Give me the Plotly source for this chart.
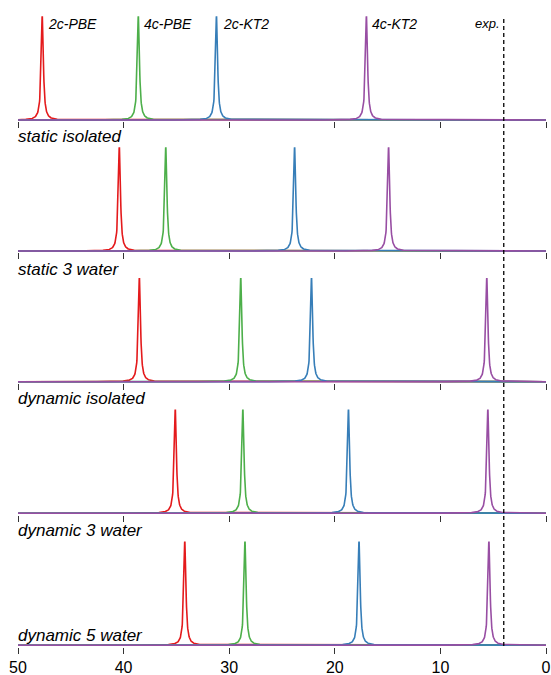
import numpy as np
import plotly.graph_objects as go

# ---- data (peak positions) ----
methods = ["2c-PBE", "4c-PBE", "2c-KT2", "4c-KT2"]
rows = ["static isolated", "static 3 water", "dynamic isolated", "dynamic 3 water", "dynamic 5 water"]
peaks_2c_pbe = [47.7, 40.4, 38.5, 35.1, 34.2]
peaks_4c_pbe = [38.6, 36.0, 28.9, 28.7, 28.5]
peaks_2c_kt2 = [31.2, 23.8, 22.2, 18.7, 17.7]
peaks_4c_kt2 = [17.0, 14.9, 5.6, 5.5, 5.4]
exp_value = 4.0
tick_vals = [50, 40, 30, 20, 10, 0]

colors = ["#e41a1c", "#4daf4a", "#377eb8", "#984ea3"]
series = [peaks_2c_pbe, peaks_4c_pbe, peaks_2c_kt2, peaks_4c_kt2]

W, H = 551, 675
gamma = 0.12
grid = np.round(np.arange(0.0, 50.0001, 0.02), 4)

baselines = [121.3, 252.3, 383.0, 514.5, 646.5]  # pixel rows of axes
panel_h = 105

def py(Y):
    return 1 - Y / H

fig = go.Figure()
n = len(rows)
for i in range(n):
    ax = "" if i == 0 else str(i + 1)
    for k, (m, vals) in enumerate(zip(methods, series)):
        c = vals[i]
        x = np.unique(np.concatenate([grid, [c]]))
        y = gamma**2 / (gamma**2 + (x - c) ** 2)
        fig.add_trace(go.Scatter(
            x=x, y=y, mode="lines", name=m, showlegend=False,
            line=dict(color=colors[k], width=1.6),
            xaxis="x" + ax, yaxis="y" + ax, hoverinfo="skip"))
    B = baselines[i]
    fig.layout["yaxis" + ax] = dict(
        domain=[py(B), py(B - panel_h)], range=[-0.012, 0.985],
        visible=False, fixedrange=True)
    fig.layout["xaxis" + ax] = dict(
        anchor="y" + ax, domain=[0, 1], range=[50, 0],
        showline=False, showgrid=False, zeroline=False,
        ticks="outside", ticklen=6, tickwidth=1, tickcolor="#333",
        tickvals=tick_vals, showticklabels=(i == n - 1),
        tickfont=dict(family="Liberation Sans, Arial", size=16, color="black"),
        automargin=False, fixedrange=True)

annotations = []
label_font = dict(family="Liberation Sans, Arial", size=17, color="black", style="italic")
label_y = [136, 269, 398, 530, 635]
for i, r in enumerate(rows):
    annotations.append(dict(text=r, xref="paper", yref="paper", x=0, y=py(label_y[i]),
                            xanchor="left", yanchor="middle", showarrow=False,
                            font=label_font, xshift=-2))

m_font = dict(family="Liberation Sans, Arial", size=14, color="black", style="italic")
for k, m in enumerate(methods):
    annotations.append(dict(text=m, xref="x", yref="paper", x=series[k][0], y=py(23.5),
                            xanchor="left", yanchor="middle", showarrow=False,
                            font=m_font, xshift=4))
annotations.append(dict(text="exp.", xref="x", yref="paper", x=exp_value, y=py(23.5),
                        xanchor="right", yanchor="middle", showarrow=False,
                        font=dict(family="Liberation Sans, Arial", size=13, color="black", style="italic"),
                        xshift=-2))

fig.update_layout(
    width=W, height=H, template="none",
    margin=dict(l=18, r=5, t=0, b=0),
    paper_bgcolor="white", plot_bgcolor="rgba(0,0,0,0)",
    annotations=annotations,
    shapes=[dict(type="line", xref="x", yref="paper", x0=exp_value, x1=exp_value,
                 y0=py(646), y1=py(18), line=dict(color="black", width=1.3, dash="4px,3px"))],
)

fig.write_html("out.html", config={"displayModeBar": False, "staticPlot": True},
               post_script="document.body.style.margin='0';document.body.style.overflow='hidden';")
